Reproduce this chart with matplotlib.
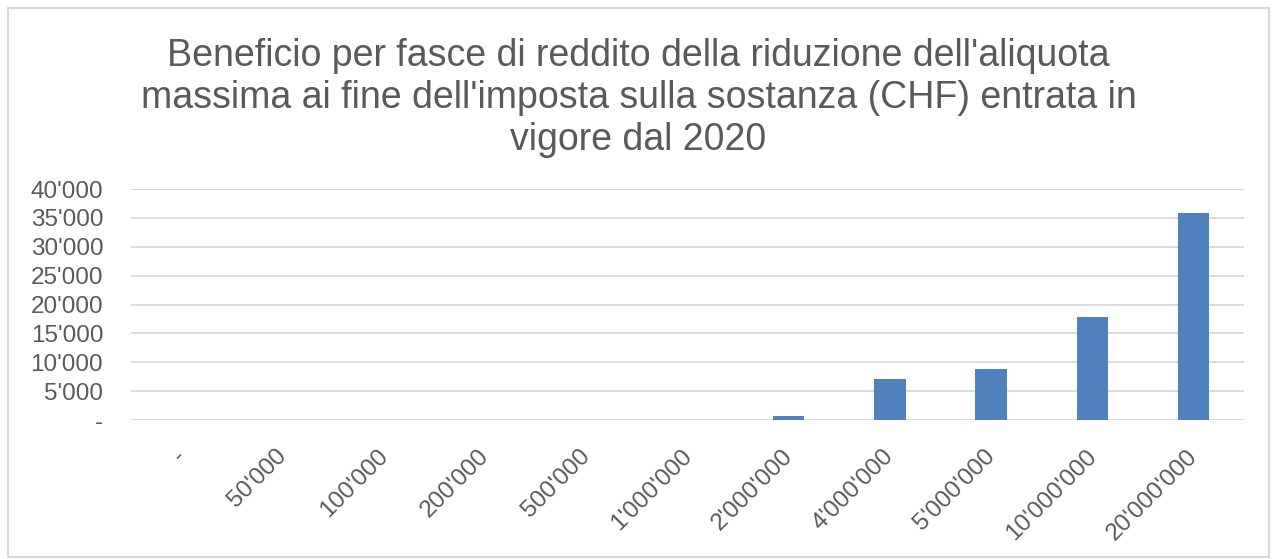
import matplotlib
matplotlib.use("Agg")
import matplotlib.pyplot as plt
import matplotlib.transforms as mtransforms
from matplotlib.patches import Rectangle

categories = ["-", "50'000", "100'000", "200'000", "500'000", "1'000'000",
              "2'000'000", "4'000'000", "5'000'000", "10'000'000", "20'000'000"]
values = [0, 0, 0, 0, 0, 0, 750, 7100, 8900, 17900, 35900]
yticks = [0, 5000, 10000, 15000, 20000, 25000, 30000, 35000, 40000]
ytick_labels = ["-", "5'000", "10'000", "15'000", "20'000", "25'000", "30'000", "35'000", "40'000"]
title = ("Beneficio per fasce di reddito della riduzione dell'aliquota\n"
         "massima ai fine dell'imposta sulla sostanza (CHF) entrata in\n"
         "vigore dal 2020")

plt.rcParams['font.family'] = ['Liberation Sans', 'DejaVu Sans']
W, H = 1277, 559
fig = plt.figure(figsize=(W/100, H/100), dpi=100)
fig.patches.append(Rectangle((8/W, 2/H), (W-16)/W, (H-10)/H, transform=fig.transFigure,
                             fill=False, edgecolor='#d9d9d9', linewidth=1.5))

ax = fig.add_axes([131/W, 1-420/H, (1244-131)/W, (420-189)/H])
x = range(len(categories))
ax.bar(x, values, width=0.31, color='#4f81bd', zorder=3)
ax.set_xlim(-0.5, len(categories)-0.5)
ax.set_ylim(0, 40000)
ax.set_yticks(yticks)
ax.set_yticklabels(ytick_labels)
ax.set_xticks(list(x))
ax.set_xticklabels(categories, rotation=45, ha='right', rotation_mode='anchor')
ax.grid(axis='y', color='#d9d9d9', linewidth=1.3, zorder=0)
for s in ax.spines.values():
    s.set_visible(False)
ax.tick_params(axis='both', length=0, colors='#595959', labelsize=17.5)
ax.tick_params(axis='y', pad=20)
ax.tick_params(axis='x', pad=18)
offset = mtransforms.ScaledTranslation(-7/100, 0, fig.dpi_scale_trans)
for lbl in ax.get_xticklabels():
    lbl.set_transform(lbl.get_transform() + offset)

fig.text(0.5, 1-98/H, title, ha='center', va='center', fontsize=27, color='#595959',
         linespacing=1.2)

fig.savefig("out.png", dpi=100)
